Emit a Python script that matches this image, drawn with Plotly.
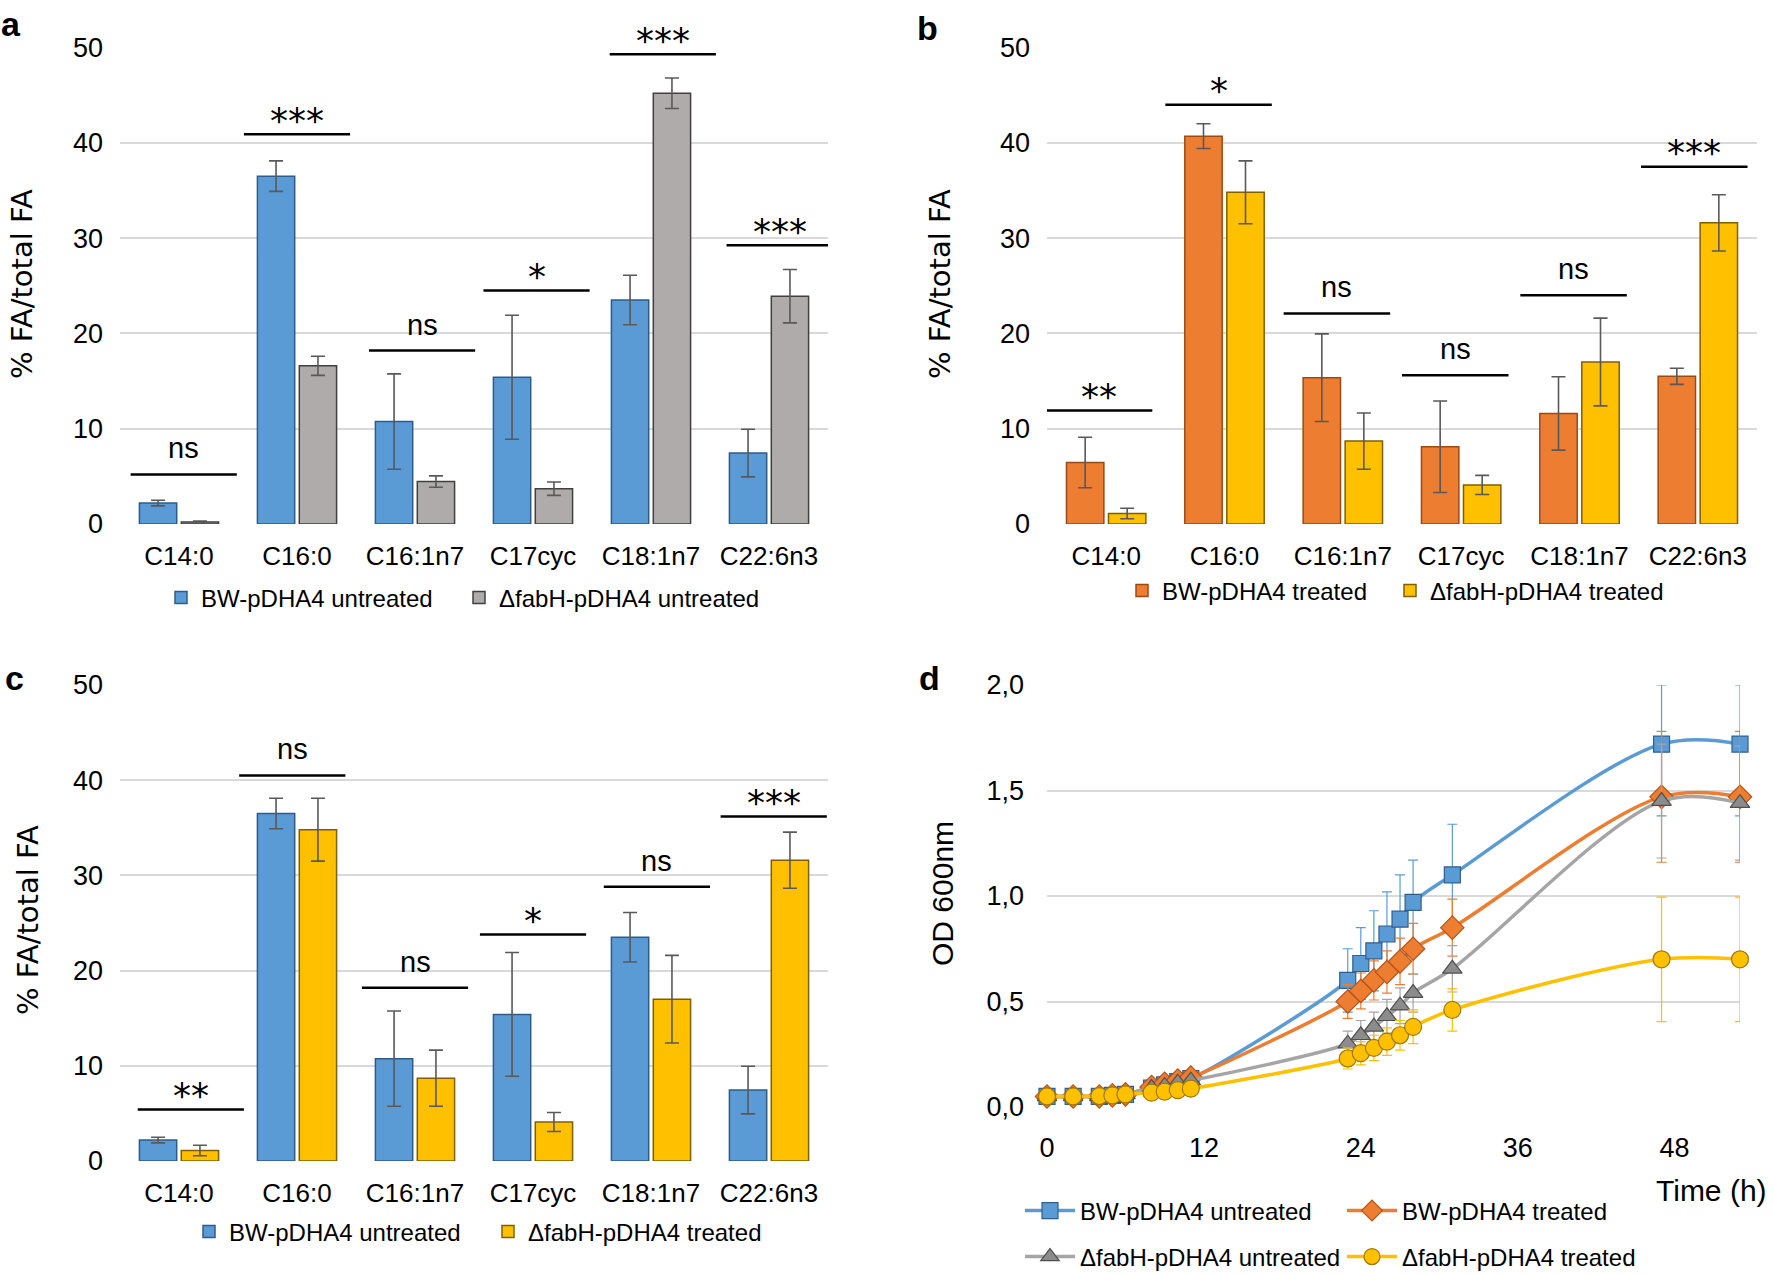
import plotly.graph_objects as go

# ---------------- data ----------------
categories = ["C14:0", "C16:0", "C16:1n7", "C17cyc", "C18:1n7", "C22:6n3"]

bw_untreated = [2.2, 36.5, 10.75, 15.4, 23.5, 7.45]
bw_untreated_err = [0.3, 1.6, 5.0, 6.5, 2.6, 2.5]
fabh_untreated = [0.2, 16.6, 4.45, 3.7, 45.2, 23.9]
fabh_untreated_err = [0.1, 1.0, 0.6, 0.7, 1.6, 2.8]
bw_treated = [6.45, 40.7, 15.35, 8.1, 11.6, 15.5]
bw_treated_err = [2.65, 1.3, 4.6, 4.8, 3.85, 0.85]
fabh_treated = [1.1, 34.8, 8.7, 4.1, 17.0, 31.6]
fabh_treated_err = [0.55, 3.3, 2.95, 1.0, 4.6, 2.95]

sig_a = ["ns", "***", "ns", "*", "***", "***"]
sig_a_y = [5.2, 40.9, 18.2, 24.5, 49.3, 29.25]
sig_b = ["**", "*", "ns", "ns", "ns", "***"]
sig_b_y = [11.9, 44.0, 22.1, 15.6, 24.0, 37.5]
sig_c = ["**", "ns", "ns", "*", "ns", "***"]
sig_c_y = [5.4, 40.5, 18.2, 23.8, 28.8, 36.2]

time_h = [0, 2, 4, 5, 6, 8, 9, 10, 11, 23, 24, 25, 26, 27, 28, 31, 47, 53]
od_bw_untreated = [0.05, 0.05, 0.05, 0.055, 0.06, 0.09, 0.105, 0.12, 0.135,
                   0.60, 0.68, 0.74, 0.82, 0.89, 0.97, 1.10, 1.72, 1.72]
od_bw_untreated_err_up = [0.01] * 9 + [0.15, 0.17, 0.19, 0.20, 0.21, 0.20, 0.24, 0.28, 0.28]
od_bw_untreated_err_dn = [0.01] * 9 + [0.15, 0.17, 0.19, 0.20, 0.21, 0.20, 0.24, 0.34, 0.34]
od_bw_treated = [0.05, 0.05, 0.05, 0.055, 0.06, 0.095, 0.11, 0.125, 0.14,
                 0.50, 0.55, 0.60, 0.64, 0.69, 0.75, 0.85, 1.47, 1.47]
od_bw_treated_err = [0.01] * 9 + [0.08, 0.085, 0.093, 0.10, 0.11, 0.12, 0.135, 0.31, 0.31]
od_fabh_untreated = [0.05, 0.05, 0.05, 0.055, 0.06, 0.09, 0.10, 0.115, 0.125,
                     0.30, 0.34, 0.38, 0.43, 0.48, 0.54, 0.655, 1.45, 1.44]
od_fabh_untreated_err = [0.01] * 9 + [0.06, 0.07, 0.07, 0.08, 0.085, 0.09, 0.11, 0.27, 0.27]
od_fabh_treated = [0.05, 0.05, 0.052, 0.055, 0.06, 0.068, 0.073, 0.08, 0.087,
                   0.23, 0.255, 0.28, 0.31, 0.34, 0.38, 0.46, 0.70, 0.70]
od_fabh_treated_err = [0.01] * 9 + [0.05, 0.055, 0.06, 0.065, 0.07, 0.08, 0.10, 0.295, 0.295]

# ---------------- styling ----------------
W, H = 1773, 1274
SANS = "Liberation Sans, Arial, sans-serif"
WIDE = "DejaVu Sans, Verdana, sans-serif"
BLUE, BLUE_L = "#5B9BD5", "#2E5C8A"
GRAY, GRAY_L = "#AFABAB", "#404040"
ORANGE, ORANGE_L = "#ED7D31", "#9C4A14"
YELLOW, YELLOW_L = "#FFC000", "#7F6000"
ERRC = "#595959"
GRID = "#D9D9D9"


def px_x(p):
    return p / W


def px_y(p):
    return 1 - p / H


fig = go.Figure()


def add_bar(name, y, err, fill, line, xa, ya, legend):
    fig.add_trace(go.Bar(
        x=categories, y=y, name=name, xaxis=xa, yaxis=ya, legend=legend,
        marker=dict(color=fill, line=dict(color=line, width=1.5)),
        error_y=dict(type="data", array=err, color=ERRC, thickness=1.6, width=7),
    ))


add_bar("BW-pDHA4 untreated", bw_untreated, bw_untreated_err, BLUE, BLUE_L, "x", "y", "legend")
add_bar("ΔfabH-pDHA4 untreated", fabh_untreated, fabh_untreated_err, GRAY, GRAY_L, "x", "y", "legend2")
add_bar("BW-pDHA4 treated", bw_treated, bw_treated_err, ORANGE, ORANGE_L, "x2", "y2", "legend3")
add_bar("ΔfabH-pDHA4 treated", fabh_treated, fabh_treated_err, YELLOW, YELLOW_L, "x2", "y2", "legend4")
add_bar("BW-pDHA4 untreated", bw_untreated, bw_untreated_err, BLUE, BLUE_L, "x3", "y3", "legend5")
add_bar("ΔfabH-pDHA4 treated", fabh_treated, fabh_treated_err, YELLOW, YELLOW_L, "x3", "y3", "legend6")


def add_line(name, y, err_up, err_dn, col, mcol, mline, symbol, legend, msize):
    fig.add_trace(go.Scatter(
        x=time_h, y=y, name=name, xaxis="x4", yaxis="y4", legend=legend,
        mode="lines+markers", cliponaxis=False,
        line=dict(color=col, width=3.5, shape="spline"),
        marker=dict(symbol=symbol, size=msize, color=mcol, line=dict(color=mline, width=1.2)),
        error_y=dict(type="data", symmetric=False, array=err_up, arrayminus=err_dn,
                     color=col, thickness=1.2, width=5),
    ))


add_line("BW-pDHA4 untreated", od_bw_untreated, od_bw_untreated_err_up, od_bw_untreated_err_dn,
         BLUE, BLUE, "#2F5F8F", "square", "legend7", 16)
add_line("BW-pDHA4 treated", od_bw_treated, od_bw_treated_err, od_bw_treated_err,
         ORANGE, ORANGE, "#B4541A", "diamond", "legend8", 18)
add_line("ΔfabH-pDHA4 untreated", od_fabh_untreated, od_fabh_untreated_err, od_fabh_untreated_err,
         "#A5A5A5", "#8C8C8C", "#505050", "triangle-up", "legend9", 17)
add_line("ΔfabH-pDHA4 treated", od_fabh_treated, od_fabh_treated_err, od_fabh_treated_err,
         YELLOW, YELLOW, "#A07800", "circle", "legend10", 17)

# ---------------- axes ----------------
xtickfont = dict(family=SANS, size=26, color="#000000")
ytickfont = dict(family=SANS, size=27, color="#000000")


def bar_axes(n, x0, x1, ytop, ybot):
    sx = "" if n == 1 else str(n)
    fig.layout["xaxis" + sx] = dict(
        domain=[px_x(x0), px_x(x1)], anchor="y" + sx, type="category",
        range=[-0.5, 5.5], showgrid=False, showline=False, zeroline=False,
        tickfont=xtickfont, ticks="", ticklabelstandoff=14, automargin=False,
    )
    fig.layout["yaxis" + sx] = dict(
        domain=[px_y(ybot), px_y(ytop)], anchor="x" + sx, range=[0, 50],
        dtick=10, showgrid=True, gridcolor=GRID, gridwidth=1.5, zeroline=False,
        showline=False, tickfont=ytickfont, ticks="", ticklabelstandoff=16, automargin=False,
    )


bar_axes(1, 120, 828, 47.5, 524)
bar_axes(2, 1047, 1757, 47.5, 524)
bar_axes(3, 120, 828, 685, 1161)

fig.layout["xaxis4"] = dict(
    domain=[px_x(1047), px_x(1740)], anchor="y4", range=[0, 53], dtick=12, tick0=0,
    showgrid=False, showline=False, zeroline=False, tickfont=ytickfont, ticks="",
    ticklabelstandoff=22, automargin=False,
)
fig.layout["yaxis4"] = dict(
    domain=[px_y(1107), px_y(685)], anchor="x4", range=[0, 2.0], dtick=0.5,
    tickformat=".1f", showgrid=True, gridcolor=GRID, gridwidth=1.5, zeroline=False,
    showline=False, tickfont=ytickfont, ticks="", ticklabelstandoff=22, automargin=False,
)

# ---------------- significance marks ----------------
sig_offsets = {
    "x": [0.04, 0.0, 0.06, 0.03, 0.1, 0.09],
    "x2": [-0.06, -0.05, -0.05, -0.05, -0.05, -0.03],
    "x3": [0.1, -0.04, 0.0, 0.0, 0.05, 0.04],
}
annotations = []
shapes = []
for xa, ya, labels, ys in [("x", "y", sig_a, sig_a_y), ("x2", "y2", sig_b, sig_b_y),
                            ("x3", "y3", sig_c, sig_c_y)]:
    for i, (lab, yv) in enumerate(zip(labels, ys)):
        cx = i + sig_offsets[xa][i]
        shapes.append(dict(type="line", xref=xa, yref=ya, x0=cx - 0.45, x1=cx + 0.45,
                           y0=yv, y1=yv, line=dict(color="#000000", width=2.5)))
        star = "*" in lab
        annotations.append(dict(
            xref=xa, yref=ya, x=cx, y=yv, text=lab,
            showarrow=False, yanchor="middle",
            yshift=14 if star else 26,
            font=dict(family=WIDE if star else SANS, size=36 if star else 29, color="#000000"),
        ))

# axis titles
for xp, yp, txt in [(22, 284, "% FA/total FA"), (940, 284, "% FA/total FA"),
                    (28, 920, "% FA/total FA")]:
    annotations.append(dict(xref="paper", yref="paper", x=px_x(xp), y=px_y(yp), text=txt,
                            textangle=-90, showarrow=False, xanchor="center", yanchor="middle",
                            font=dict(family=WIDE, size=29, color="#000000")))
annotations.append(dict(xref="paper", yref="paper", x=px_x(942), y=px_y(893), text="OD 600nm",
                        textangle=-90, showarrow=False, xanchor="center", yanchor="middle",
                        font=dict(family=SANS, size=30, color="#000000")))
annotations.append(dict(xref="paper", yref="paper", x=px_x(1711), y=px_y(1190), text="Time (h)",
                        showarrow=False, xanchor="center", yanchor="middle",
                        font=dict(family=SANS, size=30, color="#000000")))
# panel letters
for xp, yp, txt in [(11, 24, "a"), (928, 28, "b"), (14, 678, "c"), (929, 678, "d")]:
    annotations.append(dict(xref="paper", yref="paper", x=px_x(xp), y=px_y(yp), text="<b>%s</b>" % txt,
                            showarrow=False, xanchor="center", yanchor="middle",
                            font=dict(family=SANS, size=34, color="#000000")))

legfont = dict(family=SANS, size=24, color="#000000")


def legend_cfg(xp, yp, itemwidth=30):
    return dict(x=px_x(xp), y=px_y(yp), xanchor="left", yanchor="middle", orientation="h",
                font=legfont, bgcolor="rgba(0,0,0,0)", itemwidth=itemwidth,
                traceorder="normal")


fig.update_layout(
    width=W, height=H, margin=dict(l=0, r=0, t=0, b=0, autoexpand=False),
    paper_bgcolor="white", plot_bgcolor="white",
    separators=",.",
    barmode="group", bargap=0.29, bargroupgap=0.11,
    showlegend=True,
    legend=legend_cfg(161, 598),
    legend2=legend_cfg(459, 598),
    legend3=legend_cfg(1122, 591),
    legend4=legend_cfg(1390, 591),
    legend5=legend_cfg(189, 1232),
    legend6=legend_cfg(488, 1232),
    legend7=legend_cfg(1020, 1211, 50),
    legend8=legend_cfg(1342, 1211, 50),
    legend9=legend_cfg(1020, 1257, 50),
    legend10=legend_cfg(1342, 1257, 50),
    annotations=annotations, shapes=shapes,
)

fig.write_html(
    "out.html",
    config={"displayModeBar": False},
    post_script="document.body.style.margin='0';document.body.style.overflow='hidden';",
)
